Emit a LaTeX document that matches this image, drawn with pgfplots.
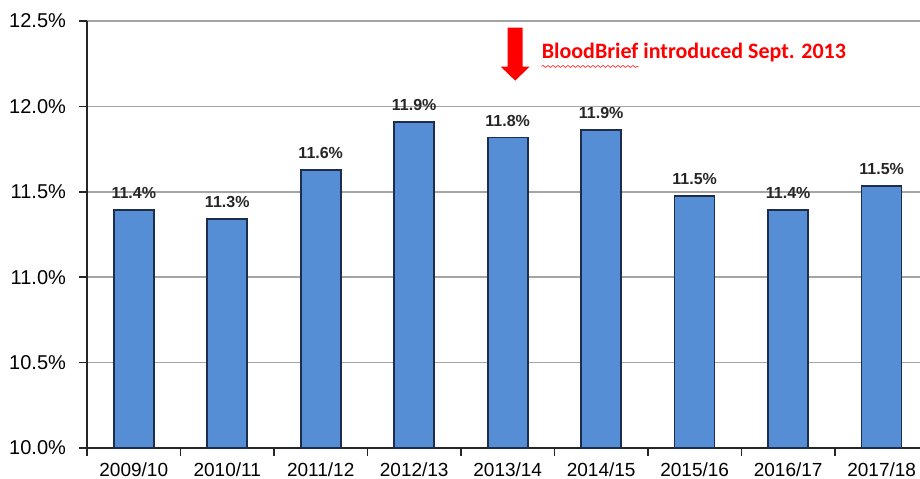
\documentclass[border=0pt]{standalone}
\usepackage{pgfplots}
\pgfplotsset{compat=1.18}
\usepackage{fontspec}
\setmainfont{Liberation Sans}
\newfontfamily\calibri{Carlito}
\usetikzlibrary{decorations.pathmorphing}
\definecolor{barfill}{RGB}{85,142,213}
\definecolor{baredge}{RGB}{30,45,75}
\definecolor{gridc}{RGB}{165,165,165}
\begin{document}
\begin{tikzpicture}
\begin{axis}[
  scale only axis,
  width=416.5pt, height=213.5pt,
  xmin=-0.5, xmax=8.41,
  ymin=10, ymax=12.5,
  axis x line*=bottom, axis y line*=left,
  axis line style={black!85, line width=0.8pt},
  ybar, bar width=20pt,
  xtick={0,...,8},
  xticklabels={2009/10,2010/11,2011/12,2012/13,2013/14,2014/15,2015/16,2016/17,2017/18},
  major x tick style={draw=none},
  minor xtick={-0.5,0.5,1.5,2.5,3.5,4.5,5.5,6.5,7.5},
  minor x tick style={draw=black!85, line width=0.8pt},
  minor tick length=4pt,
  xticklabel style={font=\fontsize{9.5}{11}\selectfont, yshift=0pt},
  ytick={10,10.5,...,12.5},
  yticklabel={\pgfmathprintnumber[fixed,fixed zerofill,precision=1]{\tick}\%},
  yticklabel style={font=\fontsize{10}{12}\selectfont, xshift=-3pt},
  /pgf/number format/assume math mode=true,
  y tick style={black!85, line width=0.8pt},
  major tick length=4pt, tick align=outside,
  ymajorgrids, grid style={gridc, line width=0.8pt},
  nodes near coords={\pgfmathprintnumber[fixed,fixed zerofill,precision=1]{\pgfplotspointmeta}\%},
  nodes near coords style={font=\bfseries\fontsize{8}{10}\selectfont, text=black!85, anchor=south, yshift=2pt},
  clip=false,
]
\addplot[fill=barfill, draw=baredge, line width=0.8pt] coordinates {
  (0,11.394) (1,11.342) (2,11.629) (3,11.910) (4,11.817)
  (5,11.863) (6,11.477) (7,11.394) (8,11.535)
};
\fill[red] (axis cs:4.0,12.461) -- (axis cs:4.16,12.461) -- (axis cs:4.16,12.233)
  -- (axis cs:4.235,12.233) -- (axis cs:4.08,12.151) -- (axis cs:3.925,12.233)
  -- (axis cs:4.0,12.233) -- cycle;
\node[anchor=west, inner sep=0pt, text=red, font=\calibri\bfseries\fontsize{11}{13}\selectfont] (bb) at (axis cs:4.36,12.315) {BloodBrief introduced Sept. 2013};
\end{axis}
\draw[red!80, line width=0.35pt, decorate, decoration={snake, amplitude=0.5pt, segment length=2.5pt}]
  ([yshift=-2pt]bb.south west) -- ++(48.5pt,0);
\pgfresetboundingbox
\path[use as bounding box] ([xshift=-43.5pt,yshift=-15.5pt]current axis.south west) rectangle ([yshift=10.5pt]current axis.north east);
\end{tikzpicture}
\end{document}
